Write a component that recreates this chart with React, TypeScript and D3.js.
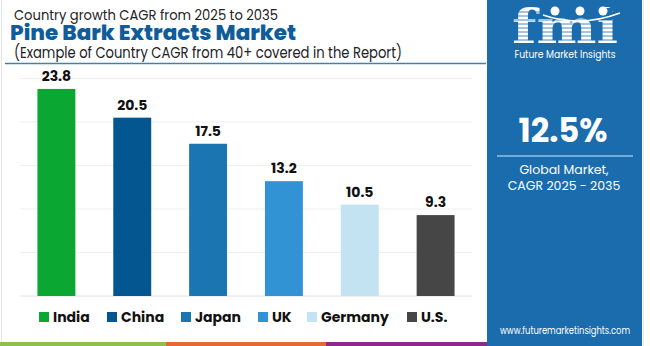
import React from "react";
import * as d3 from "d3";

const categories = ["India", "China", "Japan", "UK", "Germany", "U.S."];
const values = [23.8, 20.5, 17.5, 13.2, 10.5, 9.3];
const barColors = ["#0aa832", "#03568f", "#1b75b0", "#3193d4", "#c3e2f2", "#464646"];
const gridTicks = [0, 5, 10, 15, 20, 25];
const legendX = [39, 107, 181, 258, 307, 407];

const W = 650;
const H = 346;
const FONT = "Poppins, Inter, 'Open Sans', sans-serif";
const PANEL = "#1a6cad";

export default function App() {
  const x = d3
    .scaleBand<string>()
    .domain(categories)
    .range([20, 472])
    .paddingInner(0.5)
    .paddingOuter(0.23);
  const y = d3.scaleLinear().domain([0, 25]).range([296, 78.5]);

  const stripes = d3.range(12, 44, 4);

  return (
    <svg
      width={W}
      height={H}
      style={{ position: "absolute", left: 0, top: 0, background: "#fff" }}
      fontFamily={FONT}
    >
      <rect x={0} y={0} width={W} height={H} fill="#fff" />
      {/* faint borders */}
      <line x1={1.5} x2={1.5} y1={0} y2={342} stroke="#e6e6e6" strokeWidth={1} />
      <line x1={643.5} x2={643.5} y1={0} y2={346} stroke="#e6e6e6" strokeWidth={1} />

      {/* titles */}
      <text x={14} y={20} fontSize={15} fill="#222" textLength={264} lengthAdjust="spacingAndGlyphs">
        Country growth CAGR from 2025 to 2035
      </text>
      <text x={10} y={40} fontSize={21.5} fontWeight={800} fill="#0e5d9a" textLength={286} lengthAdjust="spacingAndGlyphs">
        Pine Bark Extracts Market
      </text>
      <text x={14} y={58} fontSize={15.5} fill="#222" textLength={388} lengthAdjust="spacingAndGlyphs">
        (Example of Country CAGR from 40+ covered in the Report)
      </text>
      <line x1={5} x2={486} y1={63.5} y2={63.5} stroke="#3c82b4" strokeWidth={1.5} />

      {/* grid */}
      {gridTicks.map((t) => (
        <line
          key={t}
          x1={20}
          x2={472}
          y1={y(t)}
          y2={y(t)}
          stroke={t === 0 ? "#e2e2e2" : "#efefef"}
          strokeWidth={1}
        />
      ))}

      {/* bars */}
      {categories.map((c, i) => (
        <g key={c}>
          <rect
            x={x(c)}
            y={y(values[i])}
            width={x.bandwidth()}
            height={y(0) - y(values[i])}
            fill={barColors[i]}
          />
          <text
            x={(x(c) as number) + x.bandwidth() / 2}
            y={y(values[i]) - 8}
            textAnchor="middle"
            fontSize={14}
            fontWeight={700}
            fill="#111"
          >
            {values[i].toFixed(1)}
          </text>
        </g>
      ))}

      {/* legend */}
      {categories.map((c, i) => (
        <g key={"lg" + c}>
          <rect x={legendX[i]} y={312} width={10} height={10} fill={barColors[i]} />
          <text x={legendX[i] + 14} y={322} fontSize={14} fontWeight={700} fill="#111">
            {c}
          </text>
        </g>
      ))}

      {/* bottom strip */}
      <rect x={0} y={342} width={166} height={4} fill="#8cc152" />
      <rect x={166} y={342} width={160} height={4} fill="#e5673a" />
      <rect x={326} y={342} width={162} height={4} fill="#8b2a8c" />

      {/* right panel */}
      <rect x={487} y={0} width={155} height={346} fill={PANEL} />
      {/* logo */}
      <text x={512} y={43} fontSize={46} fontWeight={700} fill="#fff" fontFamily="'DejaVu Serif', serif" textLength={106} lengthAdjust="spacingAndGlyphs">
        fmi
      </text>
      {stripes.map((s) => (
        <line key={s} x1={508} x2={622} y1={s} y2={s} stroke={PANEL} strokeWidth={0.8} />
      ))}
      <rect x={596} y={8} width={16} height={12} fill={PANEL} />
      <circle cx={555} cy={11} r={4.5} fill="#fff" />
      <circle cx={580} cy={11} r={4.5} fill="#fff" />
      <circle cx={603} cy={11} r={4.5} fill="#fff" />
      <path d="M543,15 Q580,28 620,13" fill="none" stroke="#fff" strokeWidth={1.5} />
      <text x={565} y={58} fontSize={10} fill="#fff" textAnchor="middle" textLength={101} lengthAdjust="spacingAndGlyphs">
        Future Market Insights
      </text>

      <text x={563} y={142} fontSize={33} fontWeight={700} fill="#fff" textAnchor="middle" textLength={89} lengthAdjust="spacingAndGlyphs">
        12.5%
      </text>
      <line x1={497} x2={633} y1={156} y2={156} stroke="#8fc0e6" strokeWidth={1.5} />
      <text x={564} y={174} fontSize={12.5} fill="#fff" textAnchor="middle">
        Global Market,
      </text>
      <text x={564} y={190} fontSize={12.5} fill="#fff" textAnchor="middle">
        CAGR 2025 - 2035
      </text>
      <text x={565} y={334} fontSize={10.5} fill="#fff" textAnchor="middle" textLength={130} lengthAdjust="spacingAndGlyphs">
        www.futuremarketinsights.com
      </text>
    </svg>
  );
}
